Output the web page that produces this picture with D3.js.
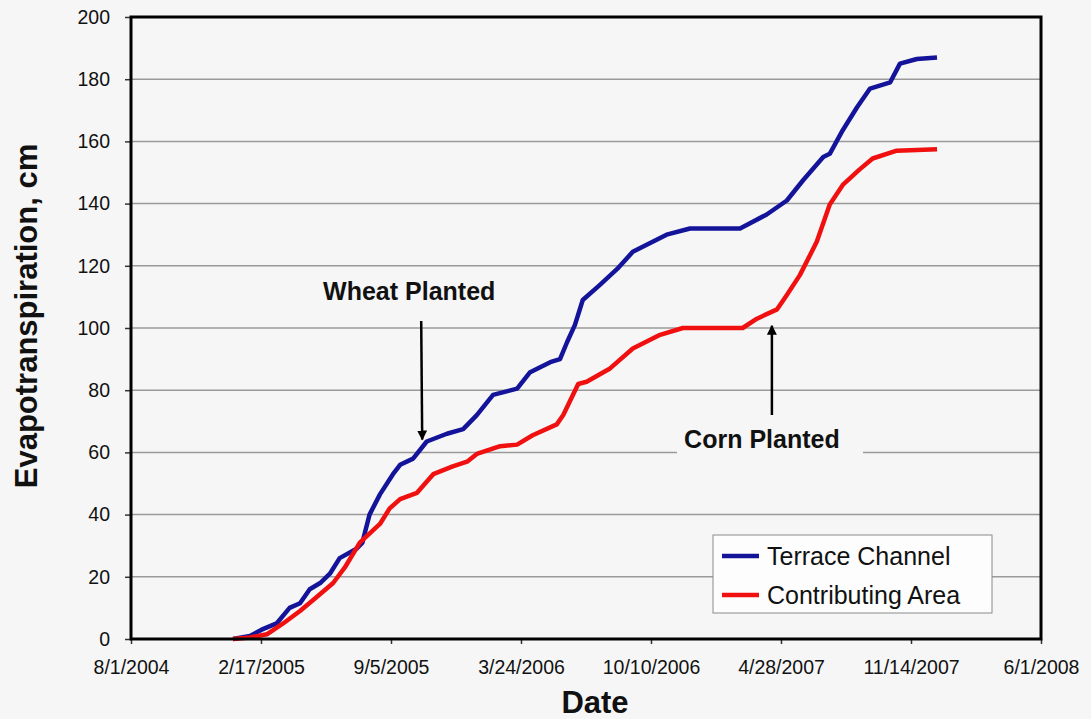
<!DOCTYPE html>
<meta charset="utf-8">
<script src="https://cdn.jsdelivr.net/npm/d3@7"></script>
<style>
body { margin: 0; background: #f6f6f6; font-family: "Liberation Sans", Arial, sans-serif; }
.grid line { stroke: #9a9a9a; stroke-width: 1.5px; }
.tick text { font-size: 19.5px; fill: #111; }
.note { font-size: 25px; font-weight: bold; fill: #111; }
</style>
<body>
<script>

// data
var terraceDates = ["2005-01-05","2005-01-31","2005-02-18","2005-03-13","2005-04-02","2005-04-18","2005-05-03","2005-05-19","2005-06-03","2005-06-18","2005-07-14","2005-07-23","2005-07-26","2005-08-03","2005-08-19","2005-09-08","2005-09-19","2005-10-09","2005-10-30","2005-11-30","2005-12-25","2006-01-15","2006-02-09","2006-03-18","2006-04-07","2006-05-08","2006-05-23","2006-06-03","2006-06-15","2006-06-27","2006-07-23","2006-08-19","2006-09-12","2006-11-03","2006-12-09","2007-02-24","2007-04-06","2007-05-07","2007-06-01","2007-07-02","2007-07-12","2007-08-01","2007-08-23","2007-09-12","2007-10-13","2007-10-28","2007-11-23","2007-12-24"];
var terraceET = [0,1,3,5,10,11.5,16,18,21,26,29,31,33.5,40,46.5,53,56,58,63.5,66,67.5,72,78.5,80.5,85.8,89,90,95.5,101,109,113.8,119,124.5,130,132,132,136.5,141,147.5,155,156,163.6,171,177,179,185,186.5,187];

var contribDates = ["2005-01-05","2005-01-31","2005-02-26","2005-03-23","2005-04-18","2005-05-11","2005-06-08","2005-06-26","2005-07-19","2005-08-19","2005-09-03","2005-09-19","2005-10-15","2005-11-09","2005-12-09","2005-12-31","2006-01-15","2006-02-20","2006-03-18","2006-04-11","2006-05-18","2006-05-28","2006-06-20","2006-07-03","2006-08-08","2006-09-12","2006-10-24","2006-11-28","2007-02-28","2007-03-22","2007-04-22","2007-05-07","2007-05-27","2007-06-22","2007-07-12","2007-08-01","2007-08-27","2007-09-16","2007-10-23","2007-12-24"];
var contribET = [0,0.5,1.5,5,9,13,18,23,31,37,42,45,47,53,55.5,57,59.5,62,62.5,65.5,69,72,82,82.7,87,93.4,97.8,100,100,103,106,110.6,117,127.7,139.7,146,151,154.5,157,157.5];

var seriesNames = ["Terrace Channel", "Contributing Area"];
var seriesColors = ["#14149a", "#f01010"];
var yTicks = [0,20,40,60,80,100,120,140,160,180,200];
var xTickDates = ["2004-08-01","2005-02-17","2005-09-05","2006-03-24","2006-10-10","2007-04-28","2007-11-14","2008-06-01"];
var wheatDate = "2005-10-23", cornDate = "2007-04-14";

var w = 1091, h = 719,
    margin = {top: 17, right: 50, bottom: 80, left: 131};
var pw = w - margin.left - margin.right,
    ph = h - margin.top - margin.bottom;

var parse = d3.timeParse("%Y-%m-%d"),
    fmt = function(d){ return (d.getMonth()+1) + "/" + d.getDate() + "/" + d.getFullYear(); };

var x = d3.scaleTime()
    .domain([parse(xTickDates[0]), parse(xTickDates[xTickDates.length-1])])
    .range([0, pw]);
var y = d3.scaleLinear().domain([0, 200]).range([ph, 0]);

var svg = d3.select("body").append("svg")
    .attr("width", w).attr("height", h);
var g = svg.append("g").attr("transform", "translate(" + margin.left + "," + margin.top + ")");

// gridlines
g.append("g").attr("class", "grid")
  .selectAll("line").data(yTicks.slice(1, -1)).enter().append("line")
    .attr("x1", 0).attr("x2", pw)
    .attr("y1", function(d){ return y(d); }).attr("y2", function(d){ return y(d); });

// axes
var yAxis = g.append("g")
    .call(d3.axisLeft(y).tickValues(yTicks).tickSize(6).tickPadding(15));
var xAxis = g.append("g").attr("transform", "translate(0," + ph + ")")
    .call(d3.axisBottom(x).tickValues(xTickDates.map(parse)).tickFormat(fmt).tickSize(5).tickPadding(14));
[yAxis, xAxis].forEach(function(a){
  a.select(".domain").remove();
  a.selectAll(".tick line").attr("stroke", "#333").attr("stroke-width", 1.5);
});
xAxis.selectAll(".tick text").attr("dy", "0.8em");

// lines
var line = d3.line()
    .x(function(d){ return x(d[0]); })
    .y(function(d){ return y(d[1]); });
var series = [
  terraceDates.map(function(d, i){ return [parse(d), terraceET[i]]; }),
  contribDates.map(function(d, i){ return [parse(d), contribET[i]]; })
];
g.selectAll(".series").data(series).enter().append("path")
    .attr("class", "series")
    .attr("fill", "none")
    .attr("stroke", function(d, i){ return seriesColors[i]; })
    .attr("stroke-width", 4.5)
    .attr("stroke-linejoin", "round")
    .attr("d", line);

// plot frame
g.append("rect").attr("width", pw).attr("height", ph)
    .attr("fill", "none").attr("stroke", "#000").attr("stroke-width", 3);

// annotations
svg.append("defs").append("marker")
    .attr("id", "head").attr("viewBox", "0 0 10 10")
    .attr("refX", 9).attr("refY", 5)
    .attr("markerWidth", 4).attr("markerHeight", 4)
    .attr("orient", "auto")
  .append("path").attr("d", "M0,0L10,5L0,10z").attr("fill", "#000");

var wx = x(parse(wheatDate));
g.append("text").attr("class", "note")
    .attr("x", wx - 13).attr("y", 300 - margin.top).attr("text-anchor", "middle").text("Wheat Planted");
g.append("line").attr("x1", wx - 1).attr("y1", 304).attr("x2", wx).attr("y2", y(63.5) - 2)
    .attr("stroke", "#000").attr("stroke-width", 2.5).attr("marker-end", "url(#head)");

var cx = x(parse(cornDate));
g.append("rect").attr("x", 677 - margin.left).attr("y", y(60) - 25).attr("width", 186).attr("height", 34)
    .attr("fill", "#f6f6f6");
g.append("text").attr("class", "note")
    .attr("x", cx - 10).attr("y", 448 - margin.top).attr("text-anchor", "middle").text("Corn Planted");
g.append("line").attr("x1", cx).attr("y1", 398).attr("x2", cx).attr("y2", y(102) + 4)
    .attr("stroke", "#000").attr("stroke-width", 2.5).attr("marker-end", "url(#head)");

// legend
var lg = g.append("g").attr("transform", "translate(" + (713 - margin.left) + "," + (535 - margin.top) + ")");
lg.append("rect").attr("width", 279).attr("height", 78)
    .attr("fill", "#fdfdfd").attr("stroke", "#8a8a8a").attr("stroke-width", 1);
seriesNames.forEach(function(name, i){
  lg.append("line").attr("x1", 9).attr("x2", 46)
      .attr("y1", 21 + i * 39).attr("y2", 21 + i * 39)
      .attr("stroke", seriesColors[i]).attr("stroke-width", 4.5);
  lg.append("text").attr("x", 54).attr("y", 21 + i * 39).attr("dy", "0.35em")
      .attr("font-size", 25).attr("fill", "#111").text(name);
});

// axis titles
svg.append("text")
    .attr("transform", "translate(37,316) rotate(-90)")
    .attr("text-anchor", "middle").attr("font-size", 31).attr("font-weight", "bold")
    .attr("fill", "#111").text("Evapotranspiration, cm");
svg.append("text")
    .attr("x", 595).attr("y", 713)
    .attr("text-anchor", "middle").attr("font-size", 31).attr("font-weight", "bold")
    .attr("fill", "#111").text("Date");

</script>
</body>
